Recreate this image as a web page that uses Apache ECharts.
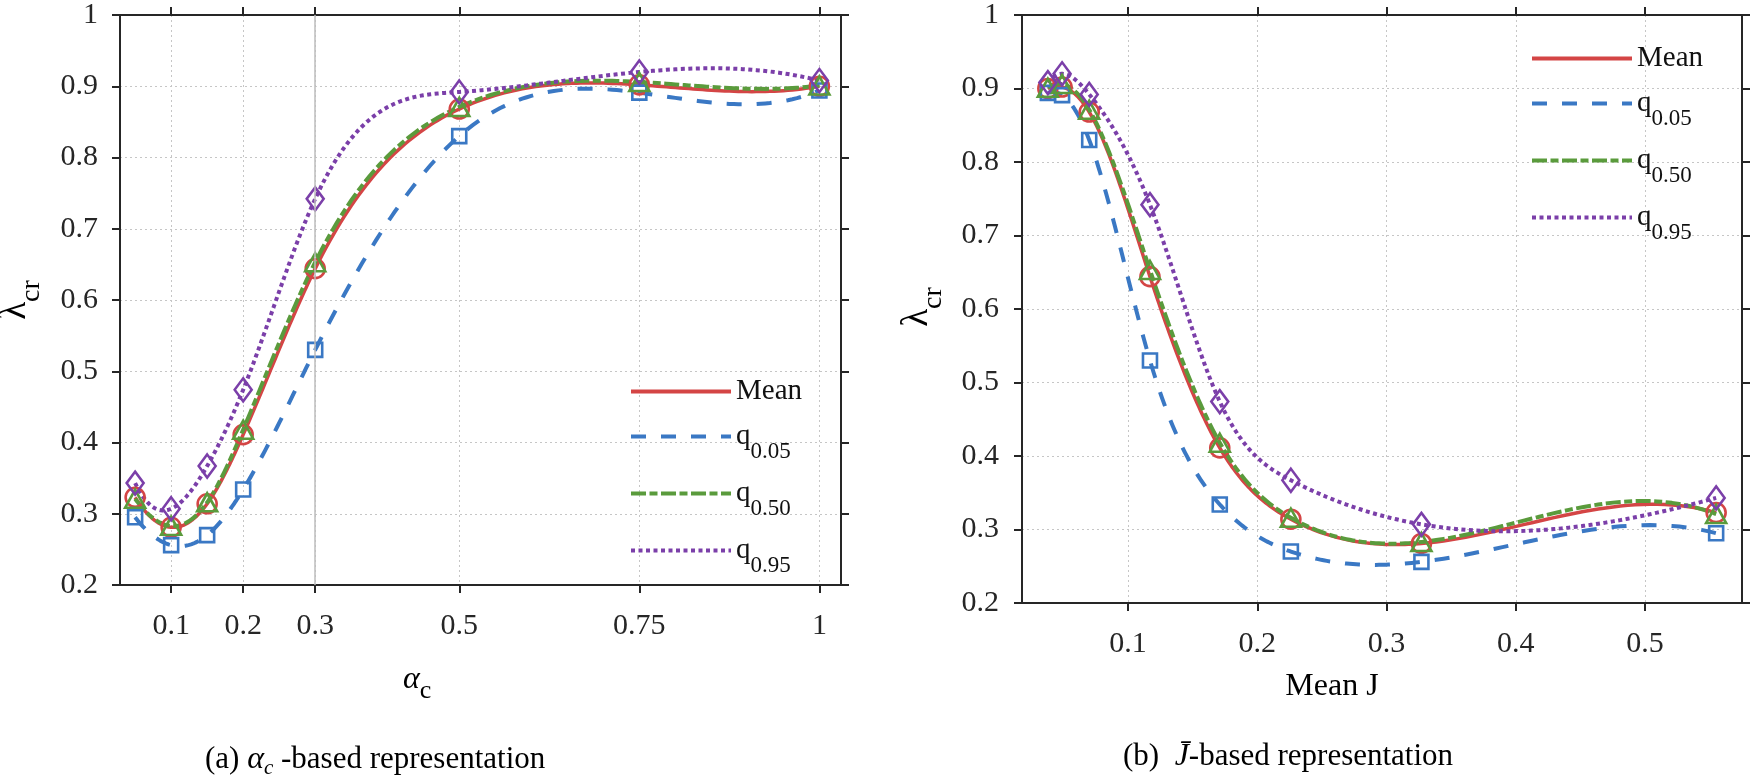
<!DOCTYPE html>
<html>
<head>
<meta charset="utf-8">
<script src="https://cdn.jsdelivr.net/npm/echarts@6/dist/echarts.min.js"></script>
<style>
  html, body { margin: 0; padding: 0; background: #fff; }
  #chart { width: 1750px; height: 775px; }
</style>
</head>
<body>
<div id="chart"></div>
<script>
// data (lambda_cr per alpha_c, and the mean J of each alpha_c)
var alphaC = [0.05, 0.1, 0.15, 0.2, 0.3, 0.5, 0.75, 1.0];
var meanJ = [0.555, 0.327, 0.226, 0.171, 0.117, 0.070, 0.049, 0.038];
var lamMean = [0.323, 0.281, 0.314, 0.411, 0.644, 0.868, 0.902, 0.900];
var lamQ05 = [0.295, 0.256, 0.270, 0.334, 0.530, 0.830, 0.891, 0.894];
var lamQ50 = [0.321, 0.283, 0.316, 0.418, 0.653, 0.871, 0.906, 0.901];
var lamQ95 = [0.343, 0.307, 0.367, 0.474, 0.742, 0.892, 0.920, 0.908];
var seriesNames = ['Mean', 'q0.05', 'q0.50', 'q0.95'];
var alphaTicks = [0.1, 0.2, 0.3, 0.5, 0.75, 1];
var jTicks = [0.1, 0.2, 0.3, 0.4, 0.5];
var alphaMark = 0.3;

var FONT = 'Liberation Serif';
var INK = '#262626';

var styles = [
    { color: '#d44545', width: 3.5, dash: 'solid', symbol: 'circle', size: 19 },
    { color: '#3a78c4', width: 4, dash: [15, 15], symbol: 'rect', size: 14 },
    { color: '#5a9b3c', width: 4, dash: [15, 3.5, 8, 3.5], symbol: 'triangle', size: [20, 18] },
    { color: '#7b3fa9', width: 4, dash: [4, 3.5], symbol: 'diamond', size: [17, 23] }
];

function pairs(xs, ys) {
    return xs.map(function (x, i) { return [x, ys[i]]; });
}

// solve A m = b (small dense system, partial pivoting)
function solve(A, b) {
    var n = b.length, i, j, k;
    for (i = 0; i < n; i++) {
        var p = i;
        for (j = i + 1; j < n; j++) if (Math.abs(A[j][i]) > Math.abs(A[p][i])) p = j;
        var t = A[i]; A[i] = A[p]; A[p] = t;
        var tb = b[i]; b[i] = b[p]; b[p] = tb;
        for (j = i + 1; j < n; j++) {
            var f = A[j][i] / A[i][i];
            for (k = i; k < n; k++) A[j][k] -= f * A[i][k];
            b[j] -= f * b[i];
        }
    }
    var m = new Array(n);
    for (i = n - 1; i >= 0; i--) {
        var s = b[i];
        for (k = i + 1; k < n; k++) s -= A[i][k] * m[k];
        m[i] = s / A[i][i];
    }
    return m;
}

// not-a-knot cubic spline through the points (like matlab spline), sampled for drawing
function splineCurve(xs, ys, steps) {
    var pts = pairs(xs, ys).sort(function (a, b) { return a[0] - b[0]; });
    var n = pts.length, i, k;
    var x = pts.map(function (p) { return p[0]; });
    var y = pts.map(function (p) { return p[1]; });
    var h = [];
    for (i = 0; i < n - 1; i++) h.push(x[i + 1] - x[i]);
    var A = [], b = [];
    for (i = 0; i < n; i++) { A.push(new Array(n).fill(0)); b.push(0); }
    A[0][0] = h[1]; A[0][1] = -(h[0] + h[1]); A[0][2] = h[0];
    for (i = 1; i < n - 1; i++) {
        A[i][i - 1] = h[i - 1];
        A[i][i] = 2 * (h[i - 1] + h[i]);
        A[i][i + 1] = h[i];
        b[i] = 6 * ((y[i + 1] - y[i]) / h[i] - (y[i] - y[i - 1]) / h[i - 1]);
    }
    A[n - 1][n - 3] = h[n - 2]; A[n - 1][n - 2] = -(h[n - 3] + h[n - 2]); A[n - 1][n - 1] = h[n - 3];
    var M = solve(A, b);
    var out = [];
    for (i = 0; i < n - 1; i++) {
        for (k = 0; k < steps; k++) {
            var t = x[i] + h[i] * k / steps;
            var a = x[i + 1] - t, c = t - x[i], hh = h[i];
            out.push([t, M[i] * a * a * a / (6 * hh) + M[i + 1] * c * c * c / (6 * hh) +
                (y[i] / hh - M[i] * hh / 6) * a + (y[i + 1] / hh - M[i + 1] * hh / 6) * c]);
        }
    }
    out.push([x[n - 1], y[n - 1]]);
    return out;
}

function curveRenderer(xs, ys, st) {
    var curve = splineCurve(xs, ys, 40);
    return function (params, api) {
        if (params.dataIndex !== 0) return null;
        return {
            type: 'polyline',
            silent: true,
            shape: { points: curve.map(function (p) { return api.coord(p); }) },
            style: {
                stroke: st.color, lineWidth: st.width, fill: null, lineJoin: 'round',
                lineDash: st.dash === 'solid' ? null : st.dash
            }
        };
    };
}

function xAxisPair(grid, ticks, min, max) {
    var bottom = {
        type: 'value', gridIndex: grid, position: 'bottom', min: min, max: max,
        axisLine: { onZero: false, lineStyle: { color: INK, width: 2 } },
        axisTick: { customValues: ticks, length: 8, lineStyle: { color: INK, width: 2 } },
        axisLabel: {
            customValues: ticks, margin: 26, color: INK, fontFamily: FONT, fontSize: 30,
            formatter: function (v) { return String(v); }
        },
        splitLine: { show: true, lineStyle: { color: '#c6c6c6', width: 1, type: [2, 3] } }
    };
    var top = {
        type: 'value', gridIndex: grid, position: 'top', min: min, max: max,
        axisLine: { onZero: false, lineStyle: { color: INK, width: 2 } },
        axisTick: { customValues: ticks, length: 8, lineStyle: { color: INK, width: 2 } },
        axisLabel: { show: false },
        splitLine: { show: false }
    };
    return [bottom, top];
}

function yAxisPair(grid, margin) {
    var left = {
        type: 'value', gridIndex: grid, position: 'left', min: 0.2, max: 1, interval: 0.1,
        axisLine: { onZero: false, lineStyle: { color: INK, width: 2 } },
        axisTick: { length: 8, lineStyle: { color: INK, width: 2 } },
        axisLabel: { margin: margin, color: INK, fontFamily: FONT, fontSize: 30 },
        splitLine: { show: true, lineStyle: { color: '#c6c6c6', width: 1, type: [2, 3] } }
    };
    var right = {
        type: 'value', gridIndex: grid, position: 'right', min: 0.2, max: 1, interval: 0.1,
        axisLine: { onZero: false, lineStyle: { color: INK, width: 2 } },
        axisTick: { length: 8, lineStyle: { color: INK, width: 2 } },
        axisLabel: { show: false },
        splitLine: { show: false }
    };
    return [left, right];
}

var lamSeries = [lamMean, lamQ05, lamQ50, lamQ95];
var panels = [{ xs: alphaC, axis: 0 }, { xs: meanJ, axis: 2 }];
var series = [];

panels.forEach(function (panel) {
    // markers (and legend icons)
    lamSeries.forEach(function (ys, k) {
        var st = styles[k];
        series.push({
            name: seriesNames[k], type: 'line',
            xAxisIndex: panel.axis, yAxisIndex: panel.axis,
            data: pairs(panel.xs, ys),
            symbol: st.symbol, symbolSize: st.size, showAllSymbol: true,
            lineStyle: { color: st.color, width: st.width, type: st.dash, opacity: 0 },
            itemStyle: { color: 'rgba(255,255,255,0)', borderColor: st.color, borderWidth: 2.6 },
            silent: true, z: 4
        });
    });
    // spline curves
    lamSeries.forEach(function (ys, k) {
        var s = {
            name: seriesNames[k], type: 'custom',
            xAxisIndex: panel.axis, yAxisIndex: panel.axis,
            data: pairs(panel.xs, ys), encode: { x: 0, y: 1 },
            renderItem: curveRenderer(panel.xs, ys, styles[k]),
            clip: true, silent: true, z: 3
        };
        if (panel.axis === 0 && k === 0) {
            s.markLine = {
                silent: true, symbol: 'none', label: { show: false },
                lineStyle: { color: '#bdbdbd', type: 'solid', width: 1.5 },
                data: [{ xAxis: alphaMark }]
            };
        }
        series.push(s);
    });
});

function legendAt(left, top) {
    return {
        orient: 'vertical', left: left, top: top, padding: 0, itemGap: 4,
        itemWidth: 100, itemHeight: 14, selectedMode: false,
        data: seriesNames,
        itemStyle: { opacity: 0 },
        lineStyle: { opacity: 1, width: 4 },
        formatter: function (name) {
            if (name === 'Mean') return '{m|Mean}';
            return '{q|q}{s|' + name.slice(1) + '}';
        },
        textStyle: {
            color: '#111', fontFamily: FONT,
            rich: {
                m: { fontFamily: FONT, fontSize: 29, lineHeight: 32, color: '#111' },
                q: { fontFamily: FONT, fontSize: 29, lineHeight: 44, color: '#111' },
                s: { fontFamily: FONT, fontSize: 23, lineHeight: 44, padding: [30, 0, 0, 0], color: '#111' }
            }
        }
    };
}

var xa = xAxisPair(0, alphaTicks, 0.029, 1.03).concat(xAxisPair(1, jTicks, 0.018, 0.575));
var ya = yAxisPair(0, 22).concat(yAxisPair(1, 23));

var textRich = {
    t: { fontFamily: FONT, fontSize: 31, color: '#111' },
    b: { fontFamily: FONT, fontSize: 32, color: '#111' },
    i: { fontFamily: FONT, fontSize: 32, fontStyle: 'italic', color: '#111' },
    is: { fontFamily: FONT, fontSize: 21, fontStyle: 'italic', padding: [16, 0, 0, 0], color: '#111' },
    sc: { fontFamily: FONT, fontSize: 26, padding: [22, 0, 0, 0], color: '#111' },
    l: { fontFamily: FONT, fontSize: 37, color: '#111' },
    lc: { fontFamily: FONT, fontSize: 28, padding: [34, 0, 0, 0], color: '#111' }
};

function label(x, y, text, align, rot) {
    return {
        type: 'text', x: x, y: y, rotation: rot || 0, silent: true,
        style: { text: text, rich: textRich, align: align, verticalAlign: 'middle' }
    };
}

var chart = echarts.init(document.getElementById('chart'), null, { renderer: 'canvas' });
chart.setOption({
    backgroundColor: '#fff',
    animation: false,
    grid: [
        { left: 120, top: 11, width: 721, height: 574 },
        { left: 1022, top: 12, width: 720, height: 591 }
    ],
    xAxis: xa,
    yAxis: ya,
    legend: [legendAt(629, 377), legendAt(1530, 44)],
    graphic: [
        label(15, 300, '{l|λ}{lc|cr}', 'center', Math.PI / 2),
        label(917, 307, '{l|λ}{lc|cr}', 'center', Math.PI / 2),
        label(403, 680, '{i|α}{sc|c}', 'left'),
        label(1332, 687, '{b|Mean J}', 'center'),
        label(205, 760, '{t|(a) }{i|α}{is|c}{t| -based representation}', 'left'),
        label(1123, 757, '{t|(b)  }{i|J\u0304}{t|-based representation}', 'left')
    ],
    series: series
});
</script>
</body>
</html>
